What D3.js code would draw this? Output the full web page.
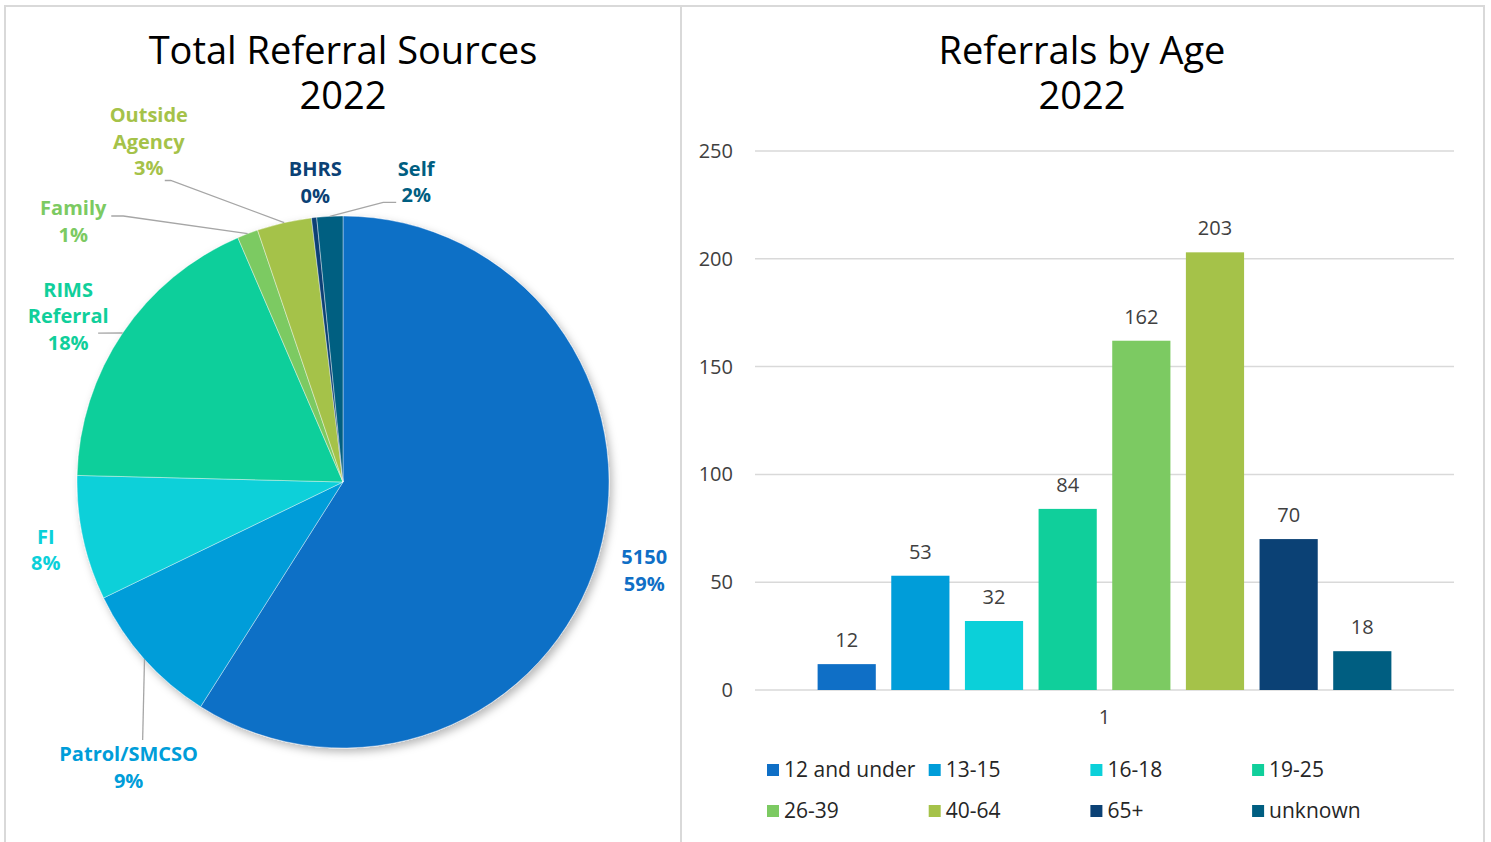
<!DOCTYPE html>
<html lang="en">
<head>
  <meta charset="UTF-8">
  <script src="https://cdn.jsdelivr.net/npm/d3@7"></script>
  <style>
    body { margin: 0; background: #fff; }
    text { font-family: "Century Gothic", "Open Sans", sans-serif; }
  </style>
</head>
<body>
<div id="my_dataviz"></div>
<script>
// pie: referral sources, clockwise from 12 o'clock
var sources = ["5150", "Patrol/SMCSO", "FI", "RIMS Referral", "Family", "Outside Agency", "BHRS", "Self"];
var sourceCounts = [374, 56, 48, 115, 8, 21, 2, 10];
var sourceColors = ["#0F6FC6", "#009DD9", "#0BD0D9", "#10CF9B", "#7CCA62", "#A5C249", "#0B4175", "#005E81"];

// bars: referrals by age
var categories = ["1"];
var ageGroups = ["12 and under", "13-15", "16-18", "19-25", "26-39", "40-64", "65+", "unknown"];
var ageCounts = [12, 53, 32, 84, 162, 203, 70, 18];
var ageColors = sourceColors;
var yTicks = [0, 50, 100, 150, 200, 250];

// label placement for the pie (angle in degrees clockwise from top, radius in px)
var pieLabelLayout = [
  { angle: 106.4, r: 314 },
  { angle: 216.9, r: 357, leader: [14, -27.5], elbow: 0 },
  { angle: 257.1, r: 305 },
  { angle: 301.1, r: 321, leader: [30, 17], elbow: 0 },
  { angle: 314.0, r: 375, leader: [38, -5.5], elbow: 12 },
  { angle: 330.3, r: 392, leader: [16, 39], elbow: 6 },
  { angle: 354.7, r: 301 },
  { angle: 13.7, r: 309, leader: [-20, 20.5], elbow: -13 }
];

var W = 1491, H = 842;
var svg = d3.select("#my_dataviz")
  .append("svg")
  .attr("width", W)
  .attr("height", H);

// panel borders
var border = "#d9d9d9";
svg.append("line").attr("x1", 4).attr("x2", 1485).attr("y1", 6).attr("y2", 6)
  .attr("stroke", border).attr("stroke-width", 2);
[5, 681, 1484].forEach(function(x) {
  svg.append("line").attr("x1", x).attr("x2", x).attr("y1", 6).attr("y2", H)
    .attr("stroke", border).attr("stroke-width", 2);
});

// titles
function title(cx, lines) {
  lines.forEach(function(t, i) {
    svg.append("text")
      .attr("x", cx).attr("y", 64 + i * 45)
      .attr("text-anchor", "middle")
      .style("font-size", "38px")
      .style("fill", "#000")
      .text(t);
  });
}
title(343, ["Total Referral Sources", "2022"]);
title(1082, ["Referrals by Age", "2022"]);

// ---------- pie ----------
var cx = 343, cy = 482, R = 266;
var defs = svg.append("defs");
var f = defs.append("filter").attr("id", "shadow")
  .attr("x", "-10%").attr("y", "-10%").attr("width", "125%").attr("height", "125%");
f.append("feDropShadow").attr("dx", 3).attr("dy", 4).attr("stdDeviation", 4)
  .attr("flood-color", "#000").attr("flood-opacity", 0.28);

var total = d3.sum(sourceCounts);
var pie = d3.pie().sort(null).value(function(d) { return d; });
var arcs = pie(sourceCounts);
var arc = d3.arc().innerRadius(0).outerRadius(R);

var pieG = svg.append("g").attr("transform", "translate(" + cx + "," + cy + ")");
pieG.append("g").attr("filter", "url(#shadow)")
  .selectAll("path")
  .data(arcs)
  .enter()
  .append("path")
    .attr("d", arc)
    .attr("fill", function(d, i) { return sourceColors[i]; })
    .attr("stroke", "#fff")
    .attr("stroke-width", 0.4);

function polar(angleDeg, r) {
  var a = angleDeg * Math.PI / 180;
  return [r * Math.sin(a), -r * Math.cos(a)];
}

// leader lines
arcs.forEach(function(d, i) {
  var lay = pieLabelLayout[i];
  if (!lay.leader) return;
  var mid = (d.startAngle + d.endAngle) / 2 * 180 / Math.PI;
  var edge = polar(mid, R);
  var lc = polar(lay.angle, lay.r);
  var p0 = [lc[0] + lay.leader[0], lc[1] + lay.leader[1]];
  var pts = [p0];
  if (lay.elbow) pts.push([p0[0] + lay.elbow, p0[1]]);
  pts.push(edge);
  pieG.append("path")
    .attr("d", d3.line()(pts))
    .attr("fill", "none")
    .attr("stroke", "#a6a6a6")
    .attr("stroke-width", 1.3);
});

// data labels
arcs.forEach(function(d, i) {
  var lay = pieLabelLayout[i];
  var c = polar(lay.angle, lay.r);
  var lines = sources[i].split(" ").concat([Math.round(d.value / total * 100) + "%"]);
  var lh = 26.5;
  var y0 = c[1] - (lines.length - 1) * lh / 2;
  lines.forEach(function(t, j) {
    pieG.append("text")
      .attr("x", c[0]).attr("y", y0 + j * lh)
      .attr("dy", "0.35em")
      .attr("text-anchor", "middle")
      .style("font-size", "20px")
      .style("font-weight", "bold")
      .style("fill", sourceColors[i])
      .text(t);
  });
});

// ---------- bar chart ----------
var plotLeft = 755, plotRight = 1454;
var y = d3.scaleLinear().domain([0, 250]).range([690, 151]);
var x0 = d3.scaleBand().domain(categories).range([plotLeft, plotRight]).padding(0);
var x1 = d3.scaleBand().domain(ageGroups).range([0, x0.bandwidth()])
  .paddingInner(0.21).paddingOuter(0.85);

// gridlines
svg.append("g")
  .selectAll("line")
  .data(yTicks)
  .enter()
  .append("line")
    .attr("x1", plotLeft).attr("x2", plotRight)
    .attr("y1", function(d) { return y(d); })
    .attr("y2", function(d) { return y(d); })
    .attr("stroke", "#d9d9d9")
    .attr("stroke-width", 1.5);

// y axis labels
var yAxis = svg.append("g")
  .attr("transform", "translate(" + (plotLeft - 6) + ",0)")
  .call(d3.axisLeft(y).tickValues(yTicks).tickSize(0).tickPadding(16));
yAxis.select(".domain").remove();
yAxis.selectAll("text").style("font-size", "20px").style("fill", "#404040")
  .style("font-family", '"Century Gothic", "Open Sans", sans-serif');

// x axis label
var xAxis = svg.append("g")
  .attr("transform", "translate(0," + y(0) + ")")
  .call(d3.axisBottom(x0).tickSize(0).tickPadding(20));
xAxis.select(".domain").remove();
xAxis.selectAll("text").style("font-size", "20px").style("fill", "#404040")
  .style("font-family", '"Century Gothic", "Open Sans", sans-serif');

var barG = svg.append("g").attr("transform", "translate(" + x0("1") + ",0)");
barG.selectAll("rect")
  .data(ageCounts)
  .enter()
  .append("rect")
    .attr("x", function(d, i) { return x1(ageGroups[i]); })
    .attr("y", function(d) { return y(d); })
    .attr("width", x1.bandwidth())
    .attr("height", function(d) { return y(0) - y(d); })
    .attr("fill", function(d, i) { return ageColors[i]; });

barG.selectAll("text.val")
  .data(ageCounts)
  .enter()
  .append("text")
    .attr("class", "val")
    .attr("x", function(d, i) { return x1(ageGroups[i]) + x1.bandwidth() / 2; })
    .attr("y", function(d) { return y(d) - 17; })
    .attr("text-anchor", "middle")
    .style("font-size", "20px")
    .style("fill", "#404040")
    .text(function(d) { return d; });

// legend
var legend = svg.append("g");
var item = legend.selectAll("g")
  .data(ageGroups)
  .enter()
  .append("g")
    .attr("transform", function(d, i) {
      return "translate(" + (767 + (i % 4) * 161.7) + "," + (770 + Math.floor(i / 4) * 41) + ")";
    });
item.append("rect")
  .attr("x", 0).attr("y", -6).attr("width", 12).attr("height", 12)
  .attr("fill", function(d, i) { return ageColors[i]; });
item.append("text")
  .attr("x", 17).attr("y", 0).attr("dy", "0.35em")
  .style("font-size", "21px")
  .style("fill", "#262626")
  .text(function(d) { return d; });
</script>
</body>
</html>
